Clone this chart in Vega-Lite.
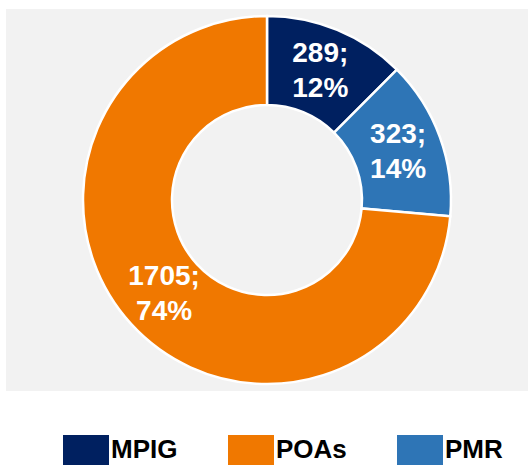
{
  "$schema": "https://vega.github.io/schema/vega-lite/v6.json",
  "width": 522,
  "height": 382,
  "autosize": {"type": "none"},
  "padding": {"left": 6, "top": 9, "right": 0, "bottom": 75},
  "background": "white",
  "view": {"fill": "#f2f2f2", "stroke": null},
  "data": {
    "values": [
      {"category": "MPIG", "value": 289, "label": "289;\n12%"},
      {"category": "PMR", "value": 323, "label": "323;\n14%"},
      {"category": "POAs", "value": 1705, "label": "1705;\n74%"}
    ]
  },
  "encoding": {
    "theta": {"field": "value", "type": "quantitative", "stack": true},
    "order": {"field": "category", "type": "nominal", "sort": "ascending"},
    "color": {
      "field": "category",
      "type": "nominal",
      "scale": {"domain": ["MPIG", "POAs", "PMR"], "range": ["#002060", "#f07800", "#2e75b6"]},
      "legend": {
        "title": null,
        "orient": "none",
        "direction": "horizontal",
        "legendX": 57,
        "legendY": 418,
        "symbolType": "M-1,-0.65H1V0.65H-1Z",
        "symbolSize": 2116,
        "symbolStrokeWidth": 0,
        "symbolOpacity": 1,
        "labelFont": "Liberation Sans",
        "labelFontWeight": "bold",
        "labelFontSize": 26,
        "labelColor": "#000000",
        "labelOffset": 2,
        "labelLimit": 200,
        "columnPadding": 50
      }
    }
  },
  "layer": [
    {
      "mark": {"type": "arc", "outerRadius": 184, "innerRadius": 95, "stroke": "white", "strokeWidth": 2.5}
    },
    {
      "mark": {
        "type": "text",
        "radius": 139.5,
        "font": "Liberation Sans",
        "fontWeight": "bold",
        "fontSize": 28,
        "lineHeight": 35,
        "lineBreak": "\n",
        "dy": -17,
        "color": "white",
        "align": "center",
        "baseline": "middle"
      },
      "encoding": {
        "text": {"field": "label", "type": "nominal"},
        "color": {"value": "white"}
      }
    }
  ]
}
